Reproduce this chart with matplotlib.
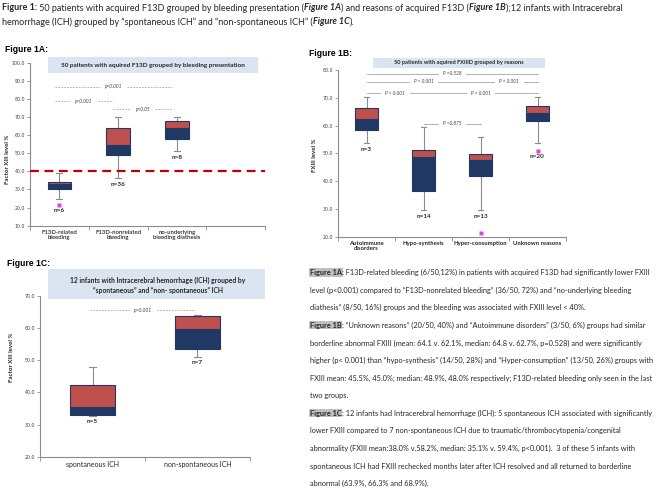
import matplotlib
matplotlib.use("Agg")
import matplotlib.pyplot as plt
from matplotlib.patches import Rectangle

W, H = 661, 495

# ---- Figure 1A: 50 patients by bleeding presentation ---------------------
a_groups = ["F13D-related\nbleeding", "F13D-nonrelated\nbleeding",
            "no-underlying\nbleeding diathesis"]
a_n = [6, 36, 8]
a_whi = [39.3, 70.2, 69.8]
a_q3 = [34.3, 63.7, 68.0]
a_med = [32.8, 54.7, 63.9]
a_q1 = [30.2, 49.0, 57.7]
a_wlo = [24.7, 36.1, 51.2]
a_out = [21.6, None, None]
a_cut = 40.0
a_sig = [(1, 3, "p=0.001", 86.7), (1, 2, "p<0.001", 78.8), (2, 3, "p>0.05", 74.2)]

# ---- Figure 1B: 50 patients by reasons -----------------------------------
b_groups = ["Autoimmune\ndisorders", "Hypo-synthesis", "Hyper-consumption",
            "Unknown reasons"]
b_n = [3, 14, 13, 20]
b_whi = [70.2, 59.6, 55.8, 70.2]
b_q3 = [66.3, 51.3, 49.9, 67.2]
b_med = [62.5, 48.8, 47.7, 64.7]
b_q1 = [58.4, 36.6, 41.8, 61.8]
b_wlo = [53.6, 29.6, 29.6, 53.6]
b_out = [None, None, 21.2, 51.0]
b_sig = [(1, 4, "P =0.528", 78.6), (1, 3, "P < 0.001", 75.7),
         (3, 4, "P < 0.001", 75.7), (1, 2, "P < 0.001", 71.6),
         (2, 4, "P < 0.001", 71.6), (2, 3, "P =0.875", 60.6)]

# ---- Figure 1C: 12 infants with ICH --------------------------------------
c_groups = ["spontaneous ICH", "non-spontaneous ICH"]
c_n = [5, 7]
c_whi = [48.0, 64.1]
c_q3 = [42.4, 63.8]
c_med = [35.6, 59.6]
c_q1 = [32.9, 53.5]
c_wlo = [32.7, 51.1]
c_out = [None, None]
c_sig = [(1, 2, "p<0.001", 65.6)]

header = [
    [("Figure 1:", dict(weight="bold")),
     (" 50 patients with acquired F13D grouped by bleeding presentation (", {}),
     ("Figure 1A", dict(weight="bold", style="italic")),
     (") and reasons of acquired F13D (", {}),
     ("Figure 1B", dict(weight="bold", style="italic")),
     (");12 infants with Intracerebral", {})],
    [("hemorrhage (ICH) grouped by \u201cspontaneous ICH\u201d and \u201cnon-spontaneous ICH\u201d (", {}),
     ("Figure 1C", dict(weight="bold", style="italic")),
     (").", {})],
]

HL = dict(weight="bold", bbox=dict(facecolor="#bfbfbf", edgecolor="none", pad=0.4))
body = [
    [("Figure 1A", HL), (": F13D-related bleeding (6/50,12%) in patients with acquired F13D had significantly lower FXIII", {})],
    [("level (p<0.001) compared to \u201cF13D-nonrelated bleeding\u201d (36/50, 72%) and \u201cno-underlying bleeding", {})],
    [("diathesis\u201d (8/50, 16%) groups and the bleeding was associated with FXIII level < 40%.", {})],
    [("Figure 1B", HL), (": \u201cUnknown reasons\u201d (20/50, 40%) and \u201cAutoimmune disorders\u201d (3/50, 6%) groups had similar", {})],
    [("borderline abnormal FXIII (mean: 64.1 v. 62.1%, median: 64.8 v. 62.7%, p=0.528) and were significantly", {})],
    [("higher (p< 0.001) than \u201chypo-synthesis\u201d (14/50, 28%) and \u201cHyper-consumption\u201d (13/50, 26%) groups with", {})],
    [("FXIII mean: 45.5%, 45.0%; median: 48.9%, 48.0% respectively; F13D-related bleeding only seen in the last", {})],
    [("two groups.", {})],
    [("Figure 1C", HL), (": 12 infants had Intracerebral hemorrhage (ICH): 5 spontaneous ICH associated with significantly", {})],
    [("lower FXIII compared to 7 non-spontaneous ICH due to traumatic/thrombocytopenia/congenital", {})],
    [("abnormality (FXIII mean:38.0% v.58.2%, median: 35.1% v. 59.4%, p<0.001).  3 of these 5 infants with", {})],
    [("spontaneous ICH had FXIII rechecked months later after ICH resolved and all returned to borderline", {})],
    [("abnormal (63.9%, 66.3% and 68.9%).", {})],
]

RED = "#c0504d"
NAVY = "#1f3864"
PINK = "#e83ee8"
GREY = "#8c8c8c"
TXT = "#262626"
BOXBG = "#dbe5f1"

fig = plt.figure(figsize=(W / 100, H / 100), dpi=100)
R = fig.canvas.get_renderer()

# overlay axes in pixel units for free text / title boxes
ov = fig.add_axes([0, 0, 1, 1])
ov.set_xlim(0, W)
ov.set_ylim(H, 0)
ov.axis("off")


def adv(s, kw):
    t1 = ov.text(0, 0, "|" + s + "|", **kw)
    t2 = ov.text(0, 0, "||", **kw)
    w = t1.get_window_extent(R).width - t2.get_window_extent(R).width
    t1.remove()
    t2.remove()
    return w


def rich(x, y, pieces, base):
    for s, kw in pieces:
        k = dict(base)
        k.update(kw)
        ov.text(x, y, s, va="center_baseline", ha="left", **k)
        k.pop("bbox", None)
        x += adv(s, k)


def fit(pieces, base, target):
    tot = 0
    for s, kw in pieces:
        k = dict(base)
        k.update(kw)
        k.pop("bbox", None)
        tot += adv(s, k)
    return base["fontsize"] * target / tot


hbase = dict(fontsize=10, family="Lato", color=TXT)
hbase["fontsize"] = fit(header[0][:5], hbase, 505)
rich(2, 7, header[0], hbase)
rich(2, 21, header[1], hbase)

bbase = dict(fontsize=10, family="Lato", color=TXT)
bbase["fontsize"] = fit(body[0], bbase, 342)
for i, line in enumerate(body):
    rich(310, 272 + i * 17.6, line, bbase)

for s, x, y in [("Figure 1A:", 5, 50), ("Figure 1B:", 309, 54), ("Figure 1C:", 7, 263)]:
    ov.text(x, y, s, fontsize=6.2, family="Liberation Sans", weight="bold",
            va="center", ha="left", color="black")

# title boxes
ov.add_patch(Rectangle((48, 57), 210, 16, fc=BOXBG, ec="none"))
ov.text(153, 65, "50 paitents with aquired F13D grouped by bleeding presentation",
        fontsize=4.6, family="Lato", weight="bold", ha="center", va="center", color=TXT)
ov.add_patch(Rectangle((373, 58), 172, 9.5, fc=BOXBG, ec="none"))
ov.text(459, 62.8, "50 patients with aquired FXIIID grouped by reasons",
        fontsize=4.1, family="Lato", weight="bold", ha="center", va="center", color=TXT)
ov.add_patch(Rectangle((48, 269), 217, 30, fc=BOXBG, ec="none"))
ov.text(158, 280, "12 infants with Intracerebral hemorrhage (ICH) grouped by",
        fontsize=4.9, family="Lato", weight="bold", ha="center", va="center", color=TXT)
ov.text(158, 290.5, "\u201cspontaneous\u201d and \u201cnon- spontaneous\u201d ICH",
        fontsize=4.9, family="Lato", weight="bold", ha="center", va="center", color=TXT)


def panel(x0, y0, x1, y1):
    return fig.add_axes([x0 / W, 1 - y1 / H, (x1 - x0) / W, (y1 - y0) / H], facecolor="none")


def style(ax, ylim, nslots, xmax, labels, lab_fs, lab_w, ylabel, ylab_xy):
    ax.set_ylim(*ylim)
    ax.set_xlim(0.5, xmax)
    ax.set_yticks(range(ylim[0], ylim[1] + 1, 10))
    ax.set_yticklabels([f"{v:.1f}" for v in range(ylim[0], ylim[1] + 1, 10)])
    ax.tick_params(axis="y", labelsize=3.4, length=2, width=0.6, color=GREY,
                   labelcolor="#404040", pad=1.5)
    ax.set_xticks([k + 0.5 for k in range(nslots + 1)])
    ax.set_xticklabels([])
    ax.set_xticks(range(1, len(labels) + 1), minor=True)
    ax.set_xticklabels(labels, minor=True, fontsize=lab_fs, fontweight=lab_w,
                       family="Lato", color=TXT, linespacing=1.0)
    ax.tick_params(axis="x", which="major", length=3, width=0.6, color=GREY)
    ax.tick_params(axis="x", which="minor", length=0, pad=3)
    for s in ("top", "right"):
        ax.spines[s].set_visible(False)
    for s in ("left", "bottom"):
        ax.spines[s].set_color(GREY)
        ax.spines[s].set_linewidth(0.8)
    ax.set_ylabel(ylabel, fontsize=4.4, fontweight="bold", family="Lato", color=TXT)
    ax.yaxis.set_label_coords(*ylab_xy)


def boxes(ax, whi, q3, med, q1, wlo, out, n, width, cap):
    for k in range(len(n)):
        x = k + 1
        ax.plot([x, x], [wlo[k], whi[k]], color=GREY, lw=0.8, zorder=1)
        ax.plot([x - cap, x + cap], [whi[k], whi[k]], color=GREY, lw=0.8, zorder=1)
        ax.plot([x - cap, x + cap], [wlo[k], wlo[k]], color=GREY, lw=0.8, zorder=1)
        ax.add_patch(Rectangle((x - width / 2, q1[k]), width, med[k] - q1[k],
                               fc=NAVY, ec=NAVY, lw=0.8, zorder=2))
        ax.add_patch(Rectangle((x - width / 2, med[k]), width, q3[k] - med[k],
                               fc=RED, ec=NAVY, lw=0.8, zorder=2))
        low = wlo[k]
        if out[k] is not None:
            ax.plot(x, out[k], "s", ms=2.2, color=PINK, mec="none", zorder=3)
            if wlo[k] - out[k] < 5:
                low = out[k]
        ax.annotate(f"n={n[k]}", (x, low), xytext=(0, -2.5), textcoords="offset points",
                    ha="center", va="top", fontsize=4.6, fontweight="bold",
                    family="Lato", color=TXT)


def sig(ax, comps, ls, fs, off):
    inv = ax.transData.inverted()
    for i, j, txt, y in comps:
        xa, xb = i + off, j + off
        t = ax.text((xa + xb) / 2, y, txt, ha="center", va="center", fontsize=fs,
                    style="italic", family="Lato", color="#404040")
        bb = t.get_window_extent(R)
        lx = inv.transform((bb.x0 - 5, bb.y0))[0]
        rx = inv.transform((bb.x1 + 5, bb.y0))[0]
        ax.plot([xa, lx], [y, y], color="#a6a6a6", lw=0.6, ls=ls)
        ax.plot([rx, xb], [y, y], color="#a6a6a6", lw=0.6, ls=ls)


# Figure 1A
axA = panel(30, 62.7, 265, 225.7)
style(axA, (10, 100), 4, 4.29, a_groups, 4.3, "semibold", "Factor XIII level %", (-0.085, 0.41))
boxes(axA, a_whi, a_q3, a_med, a_q1, a_wlo, a_out, a_n, 0.40, 0.05)
axA.axhline(a_cut, color="#c00000", lw=1.6, ls=(0, (4, 2.5)), zorder=4)
sig(axA, a_sig, (0, (2, 1.5)), 3.4, -0.08)

# Figure 1B
axB = panel(338, 70, 566, 236.7)
style(axB, (20, 80), 4, 4.5, b_groups, 4.3, "bold", "FXIII level %", (-0.092, 0.49))
boxes(axB, b_whi, b_q3, b_med, b_q1, b_wlo, b_out, b_n, 0.39, 0.04)
sig(axB, b_sig, "-", 3.4, 0.0)

# Figure 1C
axC = panel(40, 296, 250, 456.7)
style(axC, (20, 70), 2, 2.5, c_groups, 5.0, "normal", "Factor XIII level %", (-0.124, 0.62))
boxes(axC, c_whi, c_q3, c_med, c_q1, c_wlo, c_out, c_n, 0.43, 0.03)
sig(axC, c_sig, (0, (2, 1.5)), 3.6, -0.02)

fig.savefig("out.png", dpi=100, facecolor="white")
